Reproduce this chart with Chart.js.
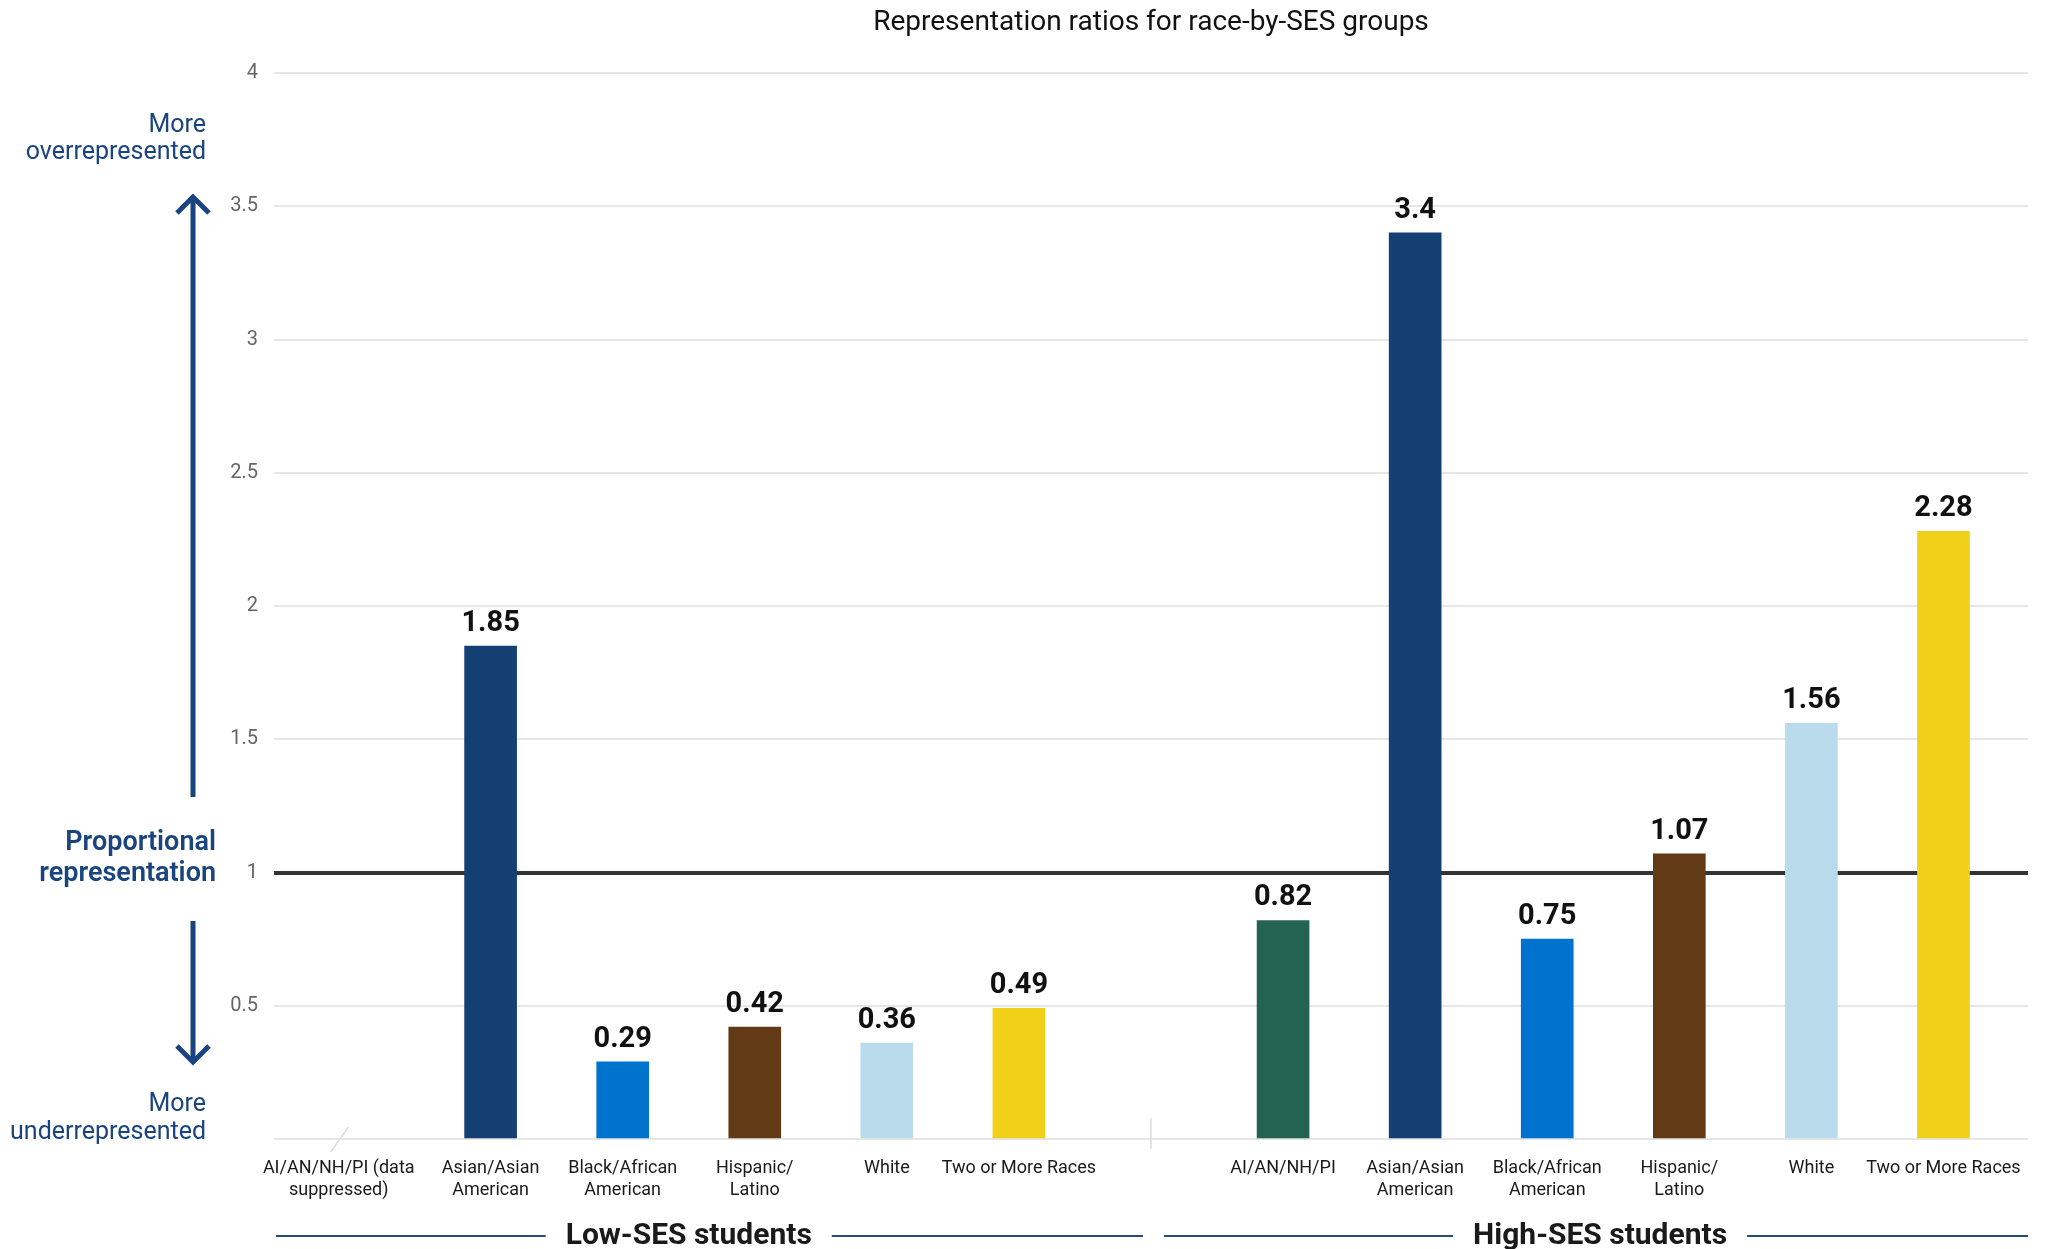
<!DOCTYPE html>
<html>
<head>
<meta charset="utf-8">
<title>Representation ratios for race-by-SES groups</title>
<script src="https://cdn.jsdelivr.net/npm/chart.js"></script>
<style>
    html, body { margin: 0; padding: 0; background: #ffffff; }
    #chart-box { width: 2047px; height: 1249px; position: relative; }
</style>
</head>
<body>
<div id="chart-box"><canvas id="ratio-chart"></canvas></div>
<script>
// Labels for every slot on the x axis (slot 6 is the empty gap between the two groups)
let categoryLabels = [
    ['AI/AN/NH/PI (data', 'suppressed)'], ['Asian/Asian', 'American'], ['Black/African', 'American'],
    ['Hispanic/', 'Latino'], 'White', 'Two or More Races',
    '',
    'AI/AN/NH/PI', ['Asian/Asian', 'American'], ['Black/African', 'American'],
    ['Hispanic/', 'Latino'], 'White', 'Two or More Races'
]

// Representation ratios (AI/AN/NH/PI low-SES is suppressed, so null)
let lowSesRatios = [null, 1.85, 0.29, 0.42, 0.36, 0.49]
let highSesRatios = [0.82, 3.4, 0.75, 1.07, 1.56, 2.28]

// One colour per race group, same order as the ratios above
let raceColors = ['#246350', '#143F73', '#0073CF', '#623B16', '#B9DBEC', '#F0D018']

let yTicks = [0, 0.5, 1, 1.5, 2, 2.5, 3, 3.5, 4]
let groupNames = ['Low-SES students', 'High-SES students']

let fontName = 'Roboto, "Liberation Sans", sans-serif'
let navy = '#1A4480'

// Turn the ratio lists into x/y points on the slot axis
let barPoints = []
let barColors = []
lowSesRatios.forEach(function (value, i) {
    if (value !== null) {
        barPoints.push({x: i, y: value})
        barColors.push(raceColors[i])
    }
})
highSesRatios.forEach(function (value, i) {
    barPoints.push({x: i + 7, y: value})
    barColors.push(raceColors[i])
})

// Draws a vertical arrow with an open chevron head
function drawArrow(ctx, x, fromY, toY) {
    let dir = toY < fromY ? 1 : -1
    ctx.save()
    ctx.strokeStyle = navy
    ctx.lineWidth = 5
    ctx.beginPath()
    ctx.moveTo(x, fromY)
    ctx.lineTo(x, toY + dir * 2)
    ctx.stroke()
    ctx.beginPath()
    ctx.moveTo(x - 16, toY + dir * 16)
    ctx.lineTo(x, toY)
    ctx.lineTo(x + 16, toY + dir * 16)
    ctx.stroke()
    ctx.restore()
}

// Extra drawing: title, side notes, value labels and the group captions
let extrasPlugin = {
    id: 'extras',
    afterDatasetsDraw: function (chart) {
        let ctx = chart.ctx
        let meta = chart.getDatasetMeta(0)
        ctx.save()
        ctx.fillStyle = '#111111'
        ctx.font = 'bold 29px ' + fontName
        ctx.textAlign = 'center'
        ctx.textBaseline = 'alphabetic'
        meta.data.forEach(function (bar, i) {
            ctx.fillText(String(barPoints[i].y), bar.x, bar.y - 15)
        })
        ctx.restore()
    },
    afterDraw: function (chart) {
        let ctx = chart.ctx
        let area = chart.chartArea
        let xScale = chart.scales.x
        ctx.save()

        // Title
        ctx.fillStyle = '#111111'
        ctx.font = '28px ' + fontName
        ctx.textAlign = 'center'
        ctx.textBaseline = 'middle'
        ctx.fillText('Representation ratios for race-by-SES groups', (area.left + area.right) / 2, 23)

        // Side notes
        ctx.textAlign = 'right'
        ctx.fillStyle = navy
        ctx.font = '25px ' + fontName
        ctx.fillText('More', 206, 126)
        ctx.fillText('overrepresented', 206, 153)
        ctx.fillText('More', 206, 1105)
        ctx.fillText('underrepresented', 206, 1133)
        ctx.font = '600 27px ' + fontName
        ctx.fillText('Proportional', 216, 843)
        ctx.fillText('representation', 216, 874)
        drawArrow(ctx, 193, 797, 197)
        drawArrow(ctx, 193, 921, 1062)

        // Small marks at the baseline: suppressed slash and group divider
        let baseY = chart.scales.y.getPixelForValue(0)
        let x0 = xScale.getPixelForValue(0)
        let xGap = xScale.getPixelForValue(6)
        ctx.strokeStyle = '#dddddd'
        ctx.lineWidth = 1.5
        ctx.beginPath()
        ctx.moveTo(x0 - 28, baseY + 13)
        ctx.lineTo(x0 - 10, baseY - 12)
        ctx.moveTo(xGap, baseY - 21)
        ctx.lineTo(xGap, baseY + 10)
        ctx.stroke()

        // Group captions with rules either side
        let captionY = 1236
        let groups = [
            {name: groupNames[0], center: xScale.getPixelForValue(2.5), left: area.left + 2, right: xGap - 8},
            {name: groupNames[1], center: xScale.getPixelForValue(9.4), left: xGap + 13, right: area.right}
        ]
        ctx.font = 'bold 30px ' + fontName
        ctx.textAlign = 'center'
        groups.forEach(function (g) {
            let half = ctx.measureText(g.name).width / 2
            ctx.fillStyle = '#1a1a1a'
            ctx.fillText(g.name, g.center, captionY)
            ctx.strokeStyle = '#2B4A7A'
            ctx.lineWidth = 2
            ctx.beginPath()
            ctx.moveTo(g.left, captionY)
            ctx.lineTo(g.center - half - 20, captionY)
            ctx.moveTo(g.center + half + 20, captionY)
            ctx.lineTo(g.right, captionY)
            ctx.stroke()
        })
        ctx.restore()
    }
}

let canvas = document.querySelector('#ratio-chart')
let cxt = canvas.getContext('2d')

let chart = new Chart(cxt, {
    type: 'bar',
    data: {
        datasets: [{
            label: 'Representation ratio',
            data: barPoints,
            backgroundColor: barColors,
            barThickness: 52
        }]
    },
    options: {
        responsive: true,
        maintainAspectRatio: false,
        devicePixelRatio: 1,
        animation: false,
        layout: {padding: {left: 214, right: 19, top: 73, bottom: 0}},
        plugins: {
            legend: {display: false},
            tooltip: {enabled: false}
        },
        scales: {
            x: {
                type: 'linear',
                offset: false,
                min: -0.64,
                max: 12.64,
                grid: {display: false, offset: false},
                border: {display: false},
                afterBuildTicks: function (scale) {
                    // the suppressed label sits a little left of its empty slot
                    scale.ticks = categoryLabels.map(function (label, i) { return {value: i === 0 ? -0.15 : i} })
                },
                afterFit: function (scale) { scale.height = 110 },
                ticks: {
                    autoSkip: false,
                    maxRotation: 0,
                    padding: 10,
                    color: '#1a1a1a',
                    font: {family: fontName, size: 18, lineHeight: 1.25},
                    callback: function (value) { return categoryLabels[Math.max(0, Math.round(value))] }
                }
            },
            y: {
                min: 0,
                max: 4,
                border: {display: false},
                afterBuildTicks: function (scale) {
                    scale.ticks = yTicks.map(function (v) { return {value: v} })
                },
                afterFit: function (scale) { scale.width = 60 },
                grid: {
                    drawTicks: false,
                    color: function (c) { return c.tick.value === 1 ? '#333333' : '#e6e6e6' },
                    lineWidth: function (c) { return c.tick.value === 1 ? 4 : 2 }
                },
                ticks: {
                    padding: 16,
                    color: '#666666',
                    font: {family: fontName, size: 20},
                    callback: function (value) { return value === 0 ? '' : value }
                }
            }
        }
    },
    plugins: [extrasPlugin]
})
</script>
</body>
</html>
